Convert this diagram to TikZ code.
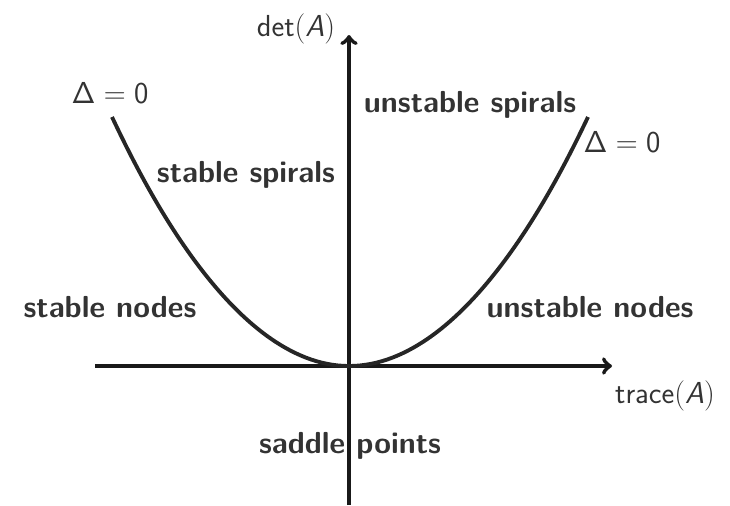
\documentclass[tikz,border=0pt]{standalone}
\usepackage{amsmath}
\usepackage{tikz}

\DeclareMathAlphabet{\mathsfit}{OT1}{cmss}{m}{sl}
\DeclareMathAlphabet{\mathsfup}{OT1}{cmss}{m}{n}
\definecolor{inkgray}{gray}{0.2}
\tikzset{
  axis/.style={line width=2.4pt, black!90, ->, >=to},
  curve/.style={line width=2.2pt, black!85},
  region/.style={anchor=base, text=inkgray, font=\fontsize{17.3}{20}\selectfont\sffamily\bfseries},
  axlabel/.style={anchor=base, text=inkgray, font=\fontsize{17.3}{20}\selectfont\sffamily},
}

\begin{document}
\begin{tikzpicture}[x=0.02cm, y=-0.02cm]
        \useasboundingbox (0,0) rectangle (730,505);

            \coordinate (o) at (349,366);
            \coordinate (xl) at (95,366);
            \coordinate (xr) at (612,366);
            \coordinate (yb) at (349,505);
            \coordinate (yt) at (349,35);
            \coordinate (pl) at (112,117);
            \coordinate (pr) at (588,117);

            \draw[axis] (xl) -- (xr);
            \draw[axis] (yb) -- (yt);
            \draw[curve] (pl) parabola bend (o) (pr);

            \node[axlabel] (det) at (296,36) {det$(\mathsfit{A})$};
            \node[axlabel] (tr) at (665,403) {trace$(\mathsfit{A})$};
            \node[axlabel] (dl) at (110,103) {$\mathsfup{\Delta} = \mathsfup{0}$};
            \node[axlabel] (dr) at (622,152) {$\mathsfup{\Delta} = \mathsfup{0}$};

            \node[region] (us) at (470,112) {unstable spirals};
            \node[region] (ss) at (246,182) {stable spirals};
            \node[region] (sn) at (110,317) {stable nodes};
            \node[region] (un) at (590,317) {unstable nodes};
            \node[region] (sp) at (350,453) {saddle points};
        \end{tikzpicture}
\end{document}
